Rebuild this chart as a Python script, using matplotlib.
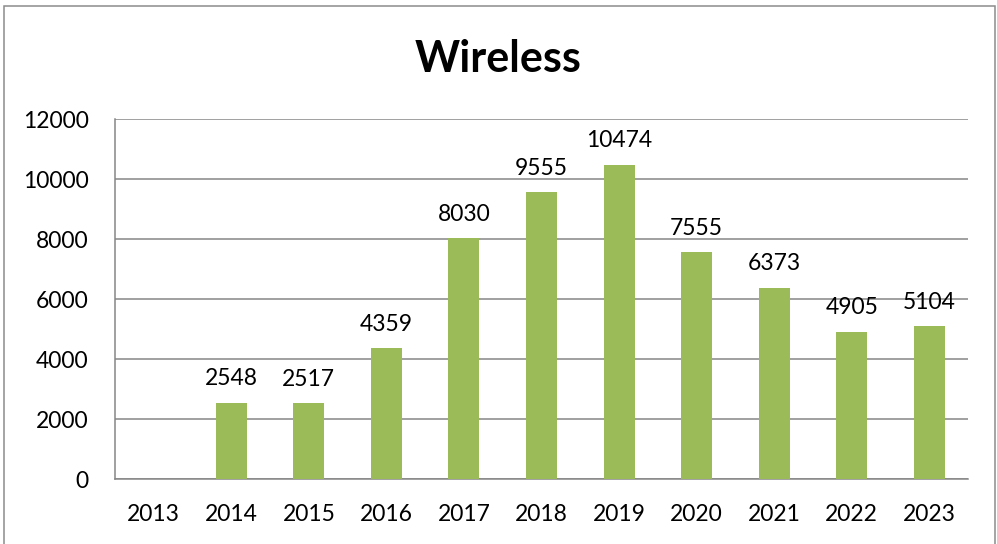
import matplotlib.pyplot as plt
from matplotlib.patches import Rectangle
import numpy as np

years = ['2013', '2014', '2015', '2016', '2017', '2018', '2019', '2020', '2021', '2022', '2023']
wireless = [0, 2548, 2517, 4359, 8030, 9555, 10474, 7555, 6373, 4905, 5104]
y_ticks = [0, 2000, 4000, 6000, 8000, 10000, 12000]

bar_color = '#9BBB59'
line_color = '#868686'

def main():
    plt.rcParams['font.family'] = ['Lato', 'DejaVu Sans']

    fig = plt.figure(figsize=(9.97, 5.44), dpi=100)
    ax = fig.add_axes([115 / 997, 1 - 479 / 544, (968 - 115) / 997, (479 - 119) / 544])

    x = np.arange(len(years))
    ax.bar(x, wireless, width=0.4, color=bar_color, zorder=3)

    # value labels above each non-empty bar
    for xi, v in zip(x, wireless):
        if v > 0:
            ax.annotate(str(v), (xi, v), xytext=(0, 12.5), textcoords='offset points',
                        ha='center', va='baseline', fontsize=16.5)

    ax.set_xlim(-0.5, len(years) - 0.5)
    ax.set_ylim(0, 12000)
    ax.set_xticks(x)
    ax.set_xticklabels(years)
    ax.set_yticks(y_ticks)
    ax.tick_params(axis='both', length=0, labelsize=16.5)
    ax.tick_params(axis='x', pad=18)
    ax.tick_params(axis='y', pad=19)

    ax.grid(axis='y', color=line_color, linewidth=1.1, zorder=0)
    for side in ['top', 'right']:
        ax.spines[side].set_visible(False)
    for side in ['left', 'bottom']:
        ax.spines[side].set_color(line_color)
        ax.spines[side].set_linewidth(1.1)

    fig.text(0.5, 1 - 72 / 544, 'Wireless', ha='center', va='baseline',
             fontsize=31, fontweight='bold')

    # chart frame, bottom edge runs off the canvas
    frame = Rectangle((4, -10), 991, 544 - 6 + 10, transform=None, fill=False,
                      edgecolor='#8c8c8c', linewidth=1.1)
    fig.patches.append(frame)

    fig.savefig('out.png', dpi=100)

if __name__ == "__main__":
    main()
